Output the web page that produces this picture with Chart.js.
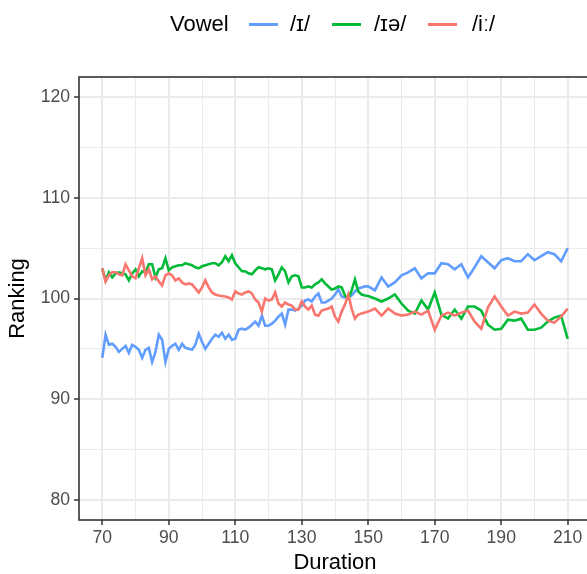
<!DOCTYPE html>
<html><head><meta charset="utf-8">
<script src="https://cdn.jsdelivr.net/npm/chart.js@4.4.0/dist/chart.umd.min.js"></script>
<style>
html,body{margin:0;padding:0;background:#fff;overflow:hidden;width:587px;height:574px;}
#wrap{position:relative;width:587px;height:574px;overflow:hidden;background:#fff;}
#c{position:absolute;left:0;top:0;}
#legend{position:absolute;left:0;top:0;width:587px;height:50px;font-family:"Liberation Sans",Arial,Helvetica,sans-serif;font-size:22px;color:#000;}
#legend span{position:absolute;white-space:nowrap;line-height:28px;top:10px;}
#legend i{position:absolute;top:23px;height:2.6px;width:29px;display:block;}
</style></head>
<body>
<div id="wrap">
<canvas id="c" width="600" height="574"></canvas>
<div id="legend"></div>
</div>
<script>
const durations = [70,71,72,73,74,75,76,77,78,79,80,81,82,83,84,85,86,87,88,89,90,91,92,93,94,95,96,97,98,99,100,101,102,103,104,105,106,107,108,109,110,111,112,113,114,115,116,117,118,119,120,121,122,123,124,125,126,127,128,129,130,131,132,133,134,135,136,137,138,139,140,141,142,143,144,145,146,147,148,149,150,152,154,156,158,160,162,164,166,168,170,172,174,176,178,180,182,184,186,188,190,192,194,196,198,200,202,204,206,208,210];

const rankI = [94.1,96.4,95.4,95.5,95.2,94.7,95.0,95.3,94.6,95.4,
95.2,94.9,94.1,94.9,95.1,93.7,94.7,96.4,95.9,93.7,
95.0,95.3,95.5,94.9,95.5,95.1,95.0,94.9,95.4,96.5,
95.7,95.0,95.5,96.0,96.4,96.2,96.6,96.0,96.4,95.9,
96.0,96.9,97.0,96.9,97.1,97.4,97.7,97.3,98.3,97.3,
97.3,97.5,97.8,98.2,98.5,97.4,98.9,98.9,98.8,99.0,
99.3,99.8,99.9,99.7,100.2,100.5,99.6,99.6,99.8,100.0,
100.4,100.9,100.2,100.1,100.1,100.3,100.7,101.0,101.1,101.2,
101.2,
100.8,102.1,101.2,101.6,102.3,102.6,103.0,102.0,102.5,102.5,
103.5,103.4,102.9,103.4,102.1,103.1,104.2,103.6,103.0,103.8,
104.0,103.7,103.7,104.4,103.8,104.2,104.6,104.4,103.7,105.0];

const rankIe = [103.0,101.8,102.6,102.1,102.5,102.6,102.5,102.4,101.8,102.5,
102.9,102.2,102.7,102.6,103.4,103.4,102.1,102.9,103.0,104.0,
102.8,103.1,103.2,103.3,103.3,103.5,103.4,103.3,103.1,103.0,
103.2,103.3,103.4,103.5,103.5,103.3,103.6,104.2,103.7,104.3,
103.5,103.1,102.7,102.7,102.5,102.4,102.8,103.1,103.0,102.9,
103.0,102.9,101.8,102.4,103.1,102.7,101.6,102.2,102.3,102.2,
101.1,101.1,101.2,101.1,101.4,101.6,101.9,101.5,101.2,100.9,
101.0,101.2,101.1,100.3,100.0,100.8,101.9,100.7,100.4,100.3,
100.25,
100.0,99.7,100.0,100.4,99.5,98.8,98.5,99.8,98.9,100.6,
98.4,98.0,98.9,98.0,99.2,99.2,98.8,97.4,96.9,97.0,
97.9,97.8,98.0,96.9,96.9,97.1,97.7,98.1,98.3,96.0];

const rankIi = [103.0,101.7,102.3,102.6,102.6,102.4,102.3,103.4,102.8,102.2,
102.0,103.0,104.0,102.3,102.9,101.9,102.2,101.7,101.3,102.3,
102.5,102.3,101.8,102.0,101.6,101.4,101.5,101.4,101.0,100.6,
101.1,101.8,101.1,100.6,100.4,100.3,100.25,100.2,100.1,99.9,
100.7,100.5,100.4,100.6,100.7,100.5,99.9,99.6,98.7,100.0,
99.8,99.9,100.6,99.5,99.2,99.6,99.4,99.3,98.9,98.9,
99.7,99.2,98.9,99.3,98.4,98.3,98.8,98.9,99.0,99.2,
98.2,97.7,98.7,99.4,100.4,99.0,98.0,98.4,98.5,98.6,
98.7,
99.0,98.3,99.0,98.5,98.3,98.4,98.7,98.4,98.8,96.9,
98.3,98.6,98.3,98.6,98.8,97.7,97.0,99.1,100.2,99.2,
98.3,98.7,98.5,98.6,99.4,98.5,97.8,97.6,98.2,99.0];

const seriesNames = ['/ɪ/','/ɪə/','/iː/'];
const legendTitle = 'Vowel';
const xTitle = 'Duration';
const yTitle = 'Ranking';
const xMajor = [70,90,110,130,150,170,190,210];
const xMinor = [80,100,120,140,160,180,200];
const yMajor = [80,90,100,110,120];
const yMinor = [85,95,105,115];

const seriesValues = [rankI, rankIe, rankIi];
const seriesColors = ['#619CFF','#00BA38','#F8766D'];
const FONT = '"Liberation Sans", Arial, Helvetica, sans-serif';

// HTML legend
const lg = document.getElementById('legend');
const titleEl = document.createElement('span');
titleEl.textContent = legendTitle; titleEl.style.left = '170px';
lg.appendChild(titleEl);
const keyX = [249, 332, 428];
const labX = [290, 374, 472];
seriesNames.forEach((n, i) => {
  const k = document.createElement('i');
  k.style.left = keyX[i] + 'px'; k.style.background = seriesColors[i];
  lg.appendChild(k);
  const s = document.createElement('span');
  s.textContent = n; s.style.left = labX[i] + 'px';
  lg.appendChild(s);
});

Chart.defaults.font.family = FONT;

const panelBorder = {
  id: 'panelBorder',
  afterDatasetsDraw(chart) {
    const {ctx, chartArea: a} = chart;
    ctx.save();
    ctx.strokeStyle = '#333333';
    ctx.lineWidth = 1.6;
    ctx.strokeRect(a.left, a.top, a.right - a.left, a.bottom - a.top);
    ctx.restore();
  }
};

const isMajorX = v => xMajor.includes(v);
const isMajorY = v => yMajor.includes(v);

new Chart(document.getElementById('c'), {
  type: 'line',
  data: {
    datasets: seriesValues.map((vals, i) => ({
      label: seriesNames[i],
      data: durations.map((d, j) => ({x: d, y: vals[j]})),
      borderColor: seriesColors[i],
      backgroundColor: seriesColors[i],
      borderWidth: 2.6,
      pointRadius: 0,
      tension: 0,
      fill: false,
      order: 2 - i
    }))
  },
  options: {
    responsive: false,
    animation: false,
    devicePixelRatio: 1,
    layout: {padding: {top: 77, right: 9, left: 0, bottom: 0}},
    plugins: {legend: {display: false}, tooltip: {enabled: false}},
    scales: {
      x: {
        type: 'linear', min: 63, max: 217,
        afterBuildTicks: ax => { ax.ticks = xMajor.concat(xMinor).sort((a, b) => a - b).map(v => ({value: v})); },
        afterFit: ax => { ax.height = 54; },
        ticks: {
          autoSkip: false, maxRotation: 0, padding: 3,
          color: '#4D4D4D', font: {size: 17.6},
          callback: v => isMajorX(v) ? String(v) : ''
        },
        grid: {
          color: '#EBEBEB',
          lineWidth: c => (c.tick && isMajorX(c.tick.value)) ? 2 : 1,
          tickColor: c => (c.tick && isMajorX(c.tick.value)) ? '#333333' : 'rgba(0,0,0,0)',
          tickLength: 5, tickWidth: 1.5
        },
        border: {display: false},
        title: {display: true, text: xTitle, color: '#000', font: {size: 22, lineHeight: 1}, padding: {top: 0, bottom: 0}}
      },
      y: {
        type: 'linear', min: 78, max: 122,
        afterBuildTicks: ax => { ax.ticks = yMajor.concat(yMinor).sort((a, b) => a - b).map(v => ({value: v})); },
        afterFit: ax => { ax.width = 79; },
        ticks: {
          autoSkip: false, padding: 4,
          color: '#4D4D4D', font: {size: 17.6},
          callback: v => isMajorY(v) ? String(v) : ''
        },
        grid: {
          color: '#EBEBEB',
          lineWidth: c => (c.tick && isMajorY(c.tick.value)) ? 2 : 1,
          tickColor: c => (c.tick && isMajorY(c.tick.value)) ? '#333333' : 'rgba(0,0,0,0)',
          tickLength: 5, tickWidth: 1.5
        },
        border: {display: false},
        title: {display: true, text: yTitle, color: '#000', font: {size: 22, lineHeight: 1}, padding: {top: 7, bottom: 0}}
      }
    }
  },
  plugins: [panelBorder]
});
</script>
</body></html>
